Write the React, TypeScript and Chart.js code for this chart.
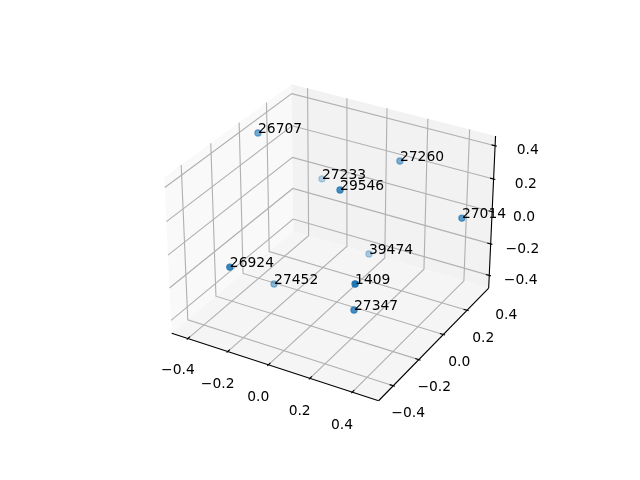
import React, { useEffect, useRef } from "react";
import { Chart, registerables } from "chart.js";
Chart.register(...registerables);

const tickValues = [-0.4, -0.2, 0, 0.2, 0.4];
const xLim = [-0.47, 0.51];
const yLim = [-0.30, 0.58];
const zLim = [-0.47, 0.447];
const pointLabels = ["26707","27260","27233","29546","27014","39474","26924","27452","1409","27347"];
const xp = [-0.374,0.154,-0.245,0.090,0.511,0.042,-0.197,-0.207,0.314,0.264];
const yp = [0.180,0.445,0.464,0.083,0.346,0.389,-0.283,0.037,-0.157,-0.084];
const zp = [0.443,0.280,0.025,0.321,0.124,-0.297,0.014,-0.326,0.015,-0.215];

const box = [1.1429,1.1429,0.8571];
const deg = Math.PI/180;
const W = [Math.cos(30*deg)*Math.cos(-60*deg), Math.cos(30*deg)*Math.sin(-60*deg), Math.sin(30*deg)];
const cross=(a:number[],b:number[])=>[a[1]*b[2]-a[2]*b[1],a[2]*b[0]-a[0]*b[2],a[0]*b[1]-a[1]*b[0]];
const norm=(a:number[])=>{const n=Math.hypot(...a);return a.map(v=>v/n)};
const dot=(a:number[],b:number[])=>a[0]*b[0]+a[1]*b[1]+a[2]*b[2];
const U = norm(cross([0,0,1],W));
const V = cross(W,U);
const R = box.map(b=>b/2);
const eye = R.map((r,i)=>r+10*W[i]);
function project(x:number,y:number,z:number){
  const P=[(x-xLim[0])/(xLim[1]-xLim[0])*box[0],(y-yLim[0])/(yLim[1]-yLim[0])*box[1],(z-zLim[0])/(zLim[1]-zLim[0])*box[2]];
  const d=P.map((v,i)=>v-eye[i]);
  const D=-dot(W,d);
  return {x:dot(U,d)/D,y:dot(V,d)/D,tz:-10/D};
}
const S=374.4/0.185;
const inset=5.2;
const xMin=-0.095-(140.8-inset)/S, xMax=xMin+(640-2*inset)/S;
const yMin=-0.095-(480-inset-427.2)/S, yMax=yMin+(480-2*inset)/S;

const m=(l:number[])=>(l[1]-l[0])/80;
const x0=xLim[0]-m(xLim),x1=xLim[1]+m(xLim),y0=yLim[0]-m(yLim),y1=yLim[1]+m(yLim),z0=zLim[0]-m(zLim),z1=zLim[1]+m(zLim);
const line=(pts:number[][],color:string,w=1.11)=>({type:"scatter",showLine:true,pointRadius:0,borderColor:color,borderWidth:w,clip:false,data:pts.map(p=>{const q=project(p[0],p[1],p[2]);return{x:q.x,y:q.y}})});

export default function App(){
  const ref=useRef<HTMLCanvasElement>(null);
  useEffect(()=>{
    const tzs=xp.map((_,i)=>project(xp[i],yp[i],zp[i]).tz);
    const lo=Math.min(...tzs),hi=Math.max(...tzs);
    const colors=tzs.map(t=>`rgba(31,119,180,${1-0.7*(t-lo)/(hi-lo)})`);
    const ds:any[]=[{type:"scatter",clip:false,data:xp.map((_,i)=>{const q=project(xp[i],yp[i],zp[i]);return{x:q.x,y:q.y}}),pointRadius:3.1,borderWidth:1.2,pointBackgroundColor:colors,pointBorderColor:colors}];
    ds.push(line([[x0,y0,z0],[x1,y0,z0]],"#000"),line([[x1,y0,z0],[x1,y1,z0]],"#000"),line([[x1,y1,z0],[x1,y1,z1]],"#000"));
    const dx=(x1-x0)/12,dy=(y1-y0)/12;
    for(const t of tickValues){
      ds.push(line([[t,y0-0.1*dy,z0],[t,y0+0.2*dy,z0]],"#000"));
      ds.push(line([[x1+0.1*dx,y1,t],[x1-0.2*dx,y1,t]],"#000"));
      ds.push(line([[t,y0,z0],[t,y1,z0],[t,y1,z1]],"#b0b0b0"));
      ds.push(line([[x0,y0,t],[x0,y1,t],[x1,y1,t]],"#b0b0b0"));
      if(t>=yLim[0]){
        ds.push(line([[x1+0.1*dx,t,z0],[x1-0.2*dx,t,z0]],"#000"));
        ds.push(line([[x1,t,z0],[x0,t,z0],[x0,t,z1]],"#b0b0b0"));
      }
    }
    const panes:[number[][],string][]=[
      [[[x0,y0,z0],[x0,y1,z0],[x0,y1,z1],[x0,y0,z1]],"#f9f9f9"],
      [[[x0,y1,z0],[x1,y1,z0],[x1,y1,z1],[x0,y1,z1]],"#f2f2f2"],
      [[[x0,y0,z0],[x1,y0,z0],[x1,y1,z0],[x0,y1,z0]],"#f5f5f5"],
    ];
    const plugin={id:"p3d",
      beforeDatasetsDraw(c:any){
        const g=c.ctx,sx=c.scales.x,sy=c.scales.y;
        for(const [pts,col] of panes){
          g.beginPath();
          pts.forEach((p,i)=>{const q=project(p[0],p[1],p[2]);const a=sx.getPixelForValue(q.x),b=sy.getPixelForValue(q.y);i?g.lineTo(a,b):g.moveTo(a,b)});
          g.closePath();g.fillStyle=col;g.fill();
        }
      },
      afterDatasetsDraw(c:any){
        const g=c.ctx,sx=c.scales.x,sy=c.scales.y;
        g.save();g.fillStyle="#000";g.font='13.89px "DejaVu Sans"';
        const put=(s:string,p:number[],al:CanvasTextAlign,bl:CanvasTextBaseline)=>{const q=project(p[0],p[1],p[2]);g.textAlign=al;g.textBaseline=bl;g.fillText(s,sx.getPixelForValue(q.x),sy.getPixelForValue(q.y))};
        pointLabels.forEach((s,i)=>put(s,[xp[i],yp[i],zp[i]],"left","alphabetic"));
        const fmt=(t:number)=>t.toFixed(1).replace("-","\u2212");
        for(const t of tickValues){
          put(fmt(t),[t,y0-0.075,z0-0.143],"center","middle");
          put(fmt(t),[x1+0.187,t,z0+0.06-0.05*t],"center","middle");
          put(fmt(t),[x1+0.139,y1+0.025,t],"center","middle");
        }
        g.restore();
      }};
    const chart=new Chart(ref.current!,{type:"scatter",data:{datasets:ds},plugins:[plugin],options:{animation:false,responsive:false,layout:{padding:0},plugins:{legend:{display:false},tooltip:{enabled:false}},scales:{x:{display:false,type:"linear",min:xMin,max:xMax},y:{display:false,type:"linear",min:yMin,max:yMax}}}} as any);
    return()=>chart.destroy();
  },[]);
  return <div style={{position:"fixed",left:0,top:0,width:640,height:480,background:"#fff"}}><canvas ref={ref} width={640} height={480} style={{display:"block"}}/></div>;
}
